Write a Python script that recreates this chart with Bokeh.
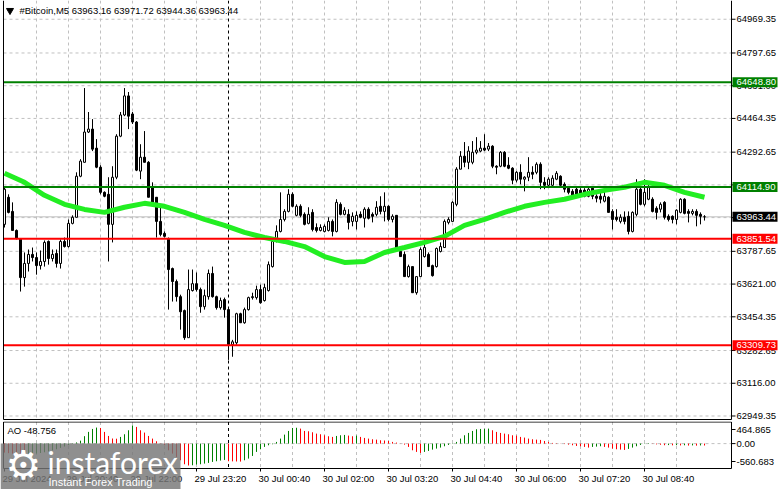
from bokeh.plotting import figure
from bokeh.layouts import column
from bokeh.models import Range1d, ColumnDataSource
from bokeh.embed import file_html
from bokeh.resources import INLINE
from bokeh.core.properties import value

FONT = "Liberation Sans"
FS = "9.5px"

# ---------------- data ----------------
opens = [63925, 64063, 63991, 63894, 63853, 63654, 63726, 63772, 63756, 63715,
         63736, 63838, 63751, 63777, 63726, 63838, 63812, 63930, 63961, 64170,
         64241, 64395, 64410, 64313, 64216, 64088, 64078, 63925, 64165, 64374,
         64482, 64579, 64487, 64446, 64196, 64267, 64241, 64114, 64063, 63940,
         63879, 63853, 63700, 63634, 63557, 63486, 63348, 63588, 63623, 63593,
         63506, 63557, 63675, 63557, 63501, 63542, 63491, 63312, 63322, 63470,
         63424, 63491, 63552, 63552, 63593, 63537, 63588, 63710, 63838, 63889,
         63950, 63991, 64078, 63971, 64017, 63976, 63930, 63986, 63909, 63894,
         63889, 63894, 63940, 63889, 64027, 63976, 63976, 63940, 63940, 63976,
         63956, 64002, 63976, 63976, 64017, 63991, 64017, 63950, 63971, 63787,
         63772, 63659, 63710, 63577, 63659, 63761, 63772, 63715, 63710, 63787,
         63807, 63935, 63940, 64027, 64206, 64272, 64241, 64241, 64292, 64298,
         64313, 64308, 64323, 64221, 64221, 64292, 64226, 64211, 64150, 64190,
         64155, 64165, 64190, 64190, 64231, 64139, 64124, 64124, 64155, 64170,
         64129, 64109, 64093, 64104, 64099, 64099, 64068, 64109, 64068, 64068,
         64043, 64063, 63991, 63961, 63940, 63961, 63966, 63889, 63976, 64104,
         64027, 64053, 64053, 64007, 64002, 64037, 63966, 63966, 63950, 63986,
         64053, 63991, 63981, 63991, 63976, 63963.16]
highs = [64114, 64078, 64037, 63899, 63853, 63782, 63797, 63807, 63782, 63792,
         63843, 63843, 63797, 63797, 63848, 63858, 63950, 63971, 64190, 64257,
         64619, 64497, 64461, 64359, 64226, 64093, 64165, 64221, 64384, 64497,
         64619, 64599, 64497, 64451, 64333, 64400, 64247, 64139, 64063, 64012,
         63889, 63858, 63705, 63644, 63567, 63491, 63695, 63695, 63680, 63603,
         63593, 63695, 63710, 63562, 63552, 63552, 63501, 63337, 63475, 63475,
         63501, 63557, 63577, 63613, 63618, 63623, 63736, 63848, 63920, 64088,
         64002, 64104, 64088, 64027, 64027, 63986, 64012, 64002, 63930, 63925,
         63925, 63961, 63950, 64053, 64037, 64012, 64002, 63986, 63991, 63991,
         64012, 64012, 63986, 64043, 64068, 64088, 64022, 63976, 63971, 63812,
         63787, 63720, 63710, 63659, 63807, 63848, 63782, 63720, 63807, 63833,
         63950, 63961, 64043, 64216, 64298, 64344, 64323, 64349, 64369, 64349,
         64384, 64339, 64328, 64226, 64298, 64298, 64267, 64216, 64196, 64231,
         64170, 64267, 64221, 64241, 64241, 64165, 64165, 64175, 64196, 64175,
         64139, 64114, 64104, 64114, 64109, 64109, 64119, 64119, 64078, 64088,
         64104, 64068, 64002, 64002, 63976, 63991, 63991, 63991, 64155, 64114,
         64155, 64129, 64063, 64017, 64037, 64043, 63976, 63971, 64002, 64058,
         64058, 64002, 64002, 64002, 63986, 63971.72]
lows = [63909, 63981, 63894, 63848, 63583, 63608, 63685, 63736, 63669, 63695,
        63710, 63720, 63736, 63705, 63700, 63807, 63807, 63925, 63961, 64165,
        64241, 64390, 64298, 64211, 64078, 64063, 63736, 63833, 64155, 64369,
        64476, 64410, 64436, 64196, 64155, 64241, 64063, 64027, 63858, 63864,
        63858, 63491, 63532, 63532, 63389, 63337, 63348, 63583, 63583, 63475,
        63491, 63542, 63552, 63491, 63491, 63450, 63235, 63251, 63312, 63424,
        63419, 63486, 63542, 63542, 63521, 63532, 63583, 63705, 63833, 63884,
        63940, 63986, 64012, 63966, 63961, 63920, 63925, 63889, 63884, 63889,
        63884, 63889, 63864, 63884, 63971, 63971, 63899, 63915, 63899, 63956,
        63909, 63950, 63935, 63966, 63976, 63940, 63940, 63935, 63797, 63761,
        63659, 63654, 63577, 63567, 63659, 63756, 63710, 63659, 63705, 63782,
        63807, 63925, 63940, 64017, 64206, 64216, 64206, 64231, 64282, 64292,
        64298, 64298, 64211, 64180, 64216, 64216, 64206, 64129, 64139, 64129,
        64093, 64145, 64155, 64180, 64104, 64104, 64114, 64119, 64150, 64119,
        64088, 64078, 64063, 64063, 64068, 64063, 64063, 64053, 64037, 64032,
        64037, 63986, 63899, 63940, 63930, 63925, 63874, 63884, 63966, 64022,
        64017, 64048, 63986, 63950, 63986, 63950, 63940, 63930, 63925, 63981,
        63976, 63935, 63971, 63915, 63925, 63944.36]
closes = [64104, 63986, 63894, 63853, 63654, 63726, 63772, 63756, 63715, 63736,
          63833, 63751, 63772, 63726, 63838, 63812, 63930, 63961, 64170, 64247,
          64395, 64410, 64308, 64216, 64088, 64068, 63925, 64165, 64374, 64482,
          64579, 64476, 64446, 64201, 64267, 64241, 64063, 64037, 63940, 63874,
          63864, 63695, 63634, 63557, 63480, 63348, 63593, 63623, 63593, 63506,
          63562, 63675, 63557, 63501, 63537, 63491, 63312, 63327, 63470, 63424,
          63491, 63552, 63557, 63593, 63526, 63603, 63720, 63838, 63889, 63950,
          63991, 64078, 64017, 64017, 63971, 63925, 63976, 63899, 63894, 63909,
          63915, 63940, 63889, 64037, 63976, 63997, 63935, 63966, 63971, 63961,
          64002, 63956, 63966, 64012, 63991, 64017, 63950, 63966, 63807, 63761,
          63659, 63710, 63577, 63659, 63797, 63807, 63710, 63664, 63802, 63812,
          63940, 63950, 64037, 64206, 64272, 64241, 64298, 64292, 64303, 64313,
          64303, 64323, 64221, 64216, 64292, 64221, 64211, 64150, 64190, 64155,
          64165, 64190, 64180, 64231, 64139, 64124, 64155, 64160, 64185, 64124,
          64104, 64088, 64068, 64068, 64078, 64068, 64104, 64068, 64058, 64053,
          64068, 63986, 63950, 63950, 63961, 63940, 63889, 63986, 64104, 64027,
          64088, 64114, 63991, 63986, 64027, 63961, 63950, 63950, 63997, 64053,
          63981, 63981, 63991, 63971, 63966, 63963.44]

# moving average read every 5 bars
ma_bars = list(range(0, 176, 5))
ma_vals = [64185, 64139, 64073, 64027, 64001, 63986, 64012, 64032, 64017, 63986,
           63950, 63920, 63884, 63858, 63838, 63812, 63761, 63731, 63736, 63782,
           63807, 63833, 63864, 63920, 63950, 63986, 64017, 64037, 64053, 64078,
           64098, 64114, 64139, 64124, 64088, 64063]

ao = [-230, -245, -258, -270, -285, -290, -282, -270, -255, -240,
      -222, -200, -175, -145, -110, -75, -40, 10, 30, 75,
      190, 300, 375, 410, 400, 299, 196, 130, 125, 171,
      239, 341, 464.865, 427, 341, 282, 196, 128, 60, 5,
      -43, -171, -256, -341, -427, -529, -560.683, -555, -537, -529,
      -512, -495, -469, -452, -435, -418, -452, -455, -458, -461,
      -427, -384, -316, -213, -145, -85, -43, -17, 43, 128,
      230, 324, 400, 405, 384, 324, 316, 290, 256, 239,
      213, 188, 171, 196, 213, 222, 205, 188, 205, 171,
      145, 128, 111, 102, 85, 80, 68, 43, 26, 3,
      -26, -85, -171, -213, -239, -213, -188, -154, -128, -102,
      -68, -34, 9, 43, 128, 213, 273, 324, 367, 375,
      378, 384, 341, 299, 273, 256, 239, 213, 205, 171,
      154, 128, 111, 102, 94, 68, 43, 17, 9, -4,
      -12, -26, -43, -60, -68, -85, -102, -85, -77, -68,
      -85, -102, -128, -145, -154, -162, -136, -102, -68, -34,
      -9, 12, -5, -20, -30, -42, -38, -45, -40, -47,
      -43, -50, -46, -52, -47, -48.756]

time_ticks = [0, 16, 32, 48, 64, 80, 96, 112, 128, 144, 160]
time_labels = ["29 Jul 2024", "29 Jul 20:40", "29 Jul 22:00", "29 Jul 23:20",
               "30 Jul 00:40", "30 Jul 02:00", "30 Jul 03:20", "30 Jul 04:40",
               "30 Jul 06:00", "30 Jul 07:20", "30 Jul 08:40"]
price_ticks = [64969.35, 64797.65, 64631.00, 64464.35, 64292.65, 64126.00,
               63959.35, 63787.65, 63621.00, 63454.35, 63282.65, 63116.00, 62949.35]
levels_green = [64648.80, 64114.90]
levels_red = [63851.54, 63309.73]
last_price = 63963.44
day_sep_bar = 56
symbol_text = "#Bitcoin,M5  63963.16 63971.72 63944.36 63963.44"
ao_title = "AO -48.756"
ao_scale_labels = ["464.865", "0.00", "-560.683"]

bars = list(range(len(closes)))
vgrid = [b for b in range(8, 176, 8) if b != day_sep_bar]

# ---------------- geometry (screen layout, 4 px per bar) ----------------
PX_PER_BAR = 4.0
def bx(px):            # horizontal screen pixel -> bar coordinate
    return -1.0 + px / PX_PER_BAR

X0, X1 = bx(0), bx(781)
LEFT, RIGHT = bx(3), bx(731)

P_TOP, P_PER_PX = 65064.8, 5.0915       # main panel price scale
def py(pix):
    return P_TOP - P_PER_PX * pix

MAIN_H = 421
AO_H = 68
AO_PER_PX = 25.6
AO_ZERO_LOCAL = 443.1 - MAIN_H
def ay(pix):           # absolute screen y -> AO value
    return (AO_ZERO_LOCAL - (pix - MAIN_H)) * AO_PER_PX

GRID = "#c0c0c0"

# ---------------- main price panel ----------------
p = figure(width=781, height=MAIN_H, x_range=Range1d(X0, X1),
           y_range=Range1d(py(MAIN_H), py(0)), output_backend="svg",
           toolbar_location=None, x_axis_location=None, y_axis_location=None,
           min_border=0)
p.outline_line_color = None
p.background_fill_color = "white"
p.border_fill_color = "white"
p.grid.visible = False

top_v, bot_v = py(0), py(419)
# grid
p.segment(x0=[LEFT] * len(price_ticks), y0=price_ticks, x1=[RIGHT] * len(price_ticks),
          y1=price_ticks, line_color=GRID, line_width=1, line_dash="3 3")
p.segment(x0=vgrid, y0=[top_v] * len(vgrid), x1=vgrid, y1=[bot_v] * len(vgrid),
          line_color=GRID, line_width=1, line_dash="3 3")
# last price line and day separator
p.segment(x0=[LEFT], y0=[last_price], x1=[RIGHT], y1=[last_price], line_color=GRID, line_width=1)
p.segment(x0=[day_sep_bar], y0=[top_v], x1=[day_sep_bar], y1=[bot_v],
          line_color="black", line_width=1, line_dash="3 3")

# candles
src = ColumnDataSource(dict(
    x=bars, o=opens, h=highs, l=lows, c=closes,
    top=[max(o, c) for o, c in zip(opens, closes)],
    bottom=[min(o, c) for o, c in zip(opens, closes)],
    fill=["white" if c >= o else "black" for o, c in zip(opens, closes)],
))
p.segment(x0="x", y0="l", x1="x", y1="h", source=src, line_color="black", line_width=1)
p.vbar(x="x", top="top", bottom="bottom", width=0.5, fill_color="fill",
       line_color="black", line_width=1, source=src)

# moving average
p.line(ma_bars, ma_vals, line_color="#22ee22", line_width=5)

# level lines
for lv in levels_green:
    p.segment(x0=[LEFT], y0=[lv], x1=[RIGHT], y1=[lv], line_color="#008000", line_width=2)
for lv in levels_red:
    p.segment(x0=[LEFT], y0=[lv], x1=[RIGHT], y1=[lv], line_color="#ff0000", line_width=2)

# frame lines and right price axis
p.segment(x0=[LEFT, LEFT, RIGHT], y0=[top_v, bot_v, top_v], x1=[LEFT, RIGHT, RIGHT],
          y1=[bot_v, bot_v, bot_v], line_color="black", line_width=1)
p.segment(x0=[RIGHT] * len(price_ticks), y0=price_ticks, x1=[bx(735)] * len(price_ticks),
          y1=price_ticks, line_color="black", line_width=1)
p.text(x=[bx(736)] * len(price_ticks), y=price_ticks, text=["%.2f" % t for t in price_ticks],
       text_font=value(FONT), text_font_size=FS, text_baseline="middle",
       text_align="left", text_color="black")

# price boxes on the axis
box_vals = levels_green + levels_red + [last_price]
box_cols = ["#008000"] * len(levels_green) + ["#ff0000"] * len(levels_red) + ["black"]
half = 5 * P_PER_PX
p.quad(left=[bx(732)] * len(box_vals), right=[bx(777)] * len(box_vals),
       top=[v + half for v in box_vals], bottom=[v - half for v in box_vals],
       fill_color=box_cols, line_color=None)
p.text(x=[bx(736)] * len(box_vals), y=box_vals, text=["%.2f" % v for v in box_vals],
       text_font=value(FONT), text_font_size=FS, text_baseline="middle",
       text_align="left", text_color="white")

# header
p.scatter([bx(9.5)], [py(10)], marker="inverted_triangle", size=7, color="black")
p.text(x=[bx(19)], y=[py(10)], text=[symbol_text], text_font=value(FONT),
       text_font_size=FS, text_baseline="middle", text_color="black")

# ---------------- AO panel ----------------
p2 = figure(width=781, height=AO_H, x_range=p.x_range,
            y_range=Range1d(ay(MAIN_H + AO_H), ay(MAIN_H)), output_backend="svg",
            toolbar_location=None, x_axis_location=None, y_axis_location=None,
            min_border=0)
p2.outline_line_color = None
p2.background_fill_color = "white"
p2.border_fill_color = "white"
p2.grid.visible = False

a_top, a_bot = ay(421.5), ay(468)
p2.segment(x0=[LEFT], y0=[0], x1=[RIGHT], y1=[0], line_color=GRID, line_width=1, line_dash="3 3")
p2.segment(x0=vgrid, y0=[a_top] * len(vgrid), x1=vgrid, y1=[a_bot] * len(vgrid),
           line_color=GRID, line_width=1, line_dash="3 3")
p2.segment(x0=[day_sep_bar], y0=[a_top], x1=[day_sep_bar], y1=[a_bot],
           line_color="black", line_width=1, line_dash="3 3")

ao_colors = ["#ff0000"] + ["#008000" if ao[i] > ao[i - 1] else "#ff0000" for i in range(1, len(ao))]
p2.segment(x0=bars, y0=[0] * len(ao), x1=bars, y1=ao, line_color=ao_colors, line_width=1)

# frame
p2.segment(x0=[LEFT, LEFT, LEFT, RIGHT], y0=[a_top, a_top, a_bot, a_top],
           x1=[RIGHT, LEFT, RIGHT, RIGHT], y1=[a_top, a_bot, a_bot, a_bot],
           line_color="black", line_width=1)
# AO scale labels (drawn at the positions MT4 uses)
ao_label_y = [ay(429), 0, ay(461)]
p2.segment(x0=[RIGHT] * 3, y0=ao_label_y, x1=[bx(735)] * 3, y1=ao_label_y,
           line_color="black", line_width=1)
p2.text(x=[bx(736)] * 3, y=ao_label_y, text=ao_scale_labels, text_font=value(FONT),
        text_font_size=FS, text_baseline="middle", text_align="left", text_color="black")

# time axis
p2.segment(x0=time_ticks, y0=[a_bot] * len(time_ticks), x1=time_ticks,
           y1=[ay(471)] * len(time_ticks), line_color="black", line_width=1)
p2.text(x=[t - 0.5 for t in time_ticks], y=[ay(477.5)] * len(time_ticks), text=time_labels,
        text_font=value(FONT), text_font_size=FS, text_baseline="middle",
        text_align="left", text_color="black")

p2.text(x=[bx(7)], y=[ay(430)], text=[ao_title], text_font=value(FONT),
        text_font_size=FS, text_baseline="middle", text_color="black")

# watermark
p2.quad(left=[bx(0)], right=[bx(180)], top=[ay(443)], bottom=[ay(489)],
        fill_color="#767676", fill_alpha=0.82, line_color=None)
p2.text(x=[bx(23)], y=[ay(464)], text=["\u2699"], text_font=value("DejaVu Sans"),
        text_font_size="40px", text_align="center", text_baseline="middle", text_color="white")
p2.text(x=[bx(47)], y=[ay(461)], text=["instaforex"], text_font=value("Lato"),
        text_font_size="30px", text_align="left", text_baseline="middle", text_color="white")
p2.text(x=[bx(48)], y=[ay(481)], text=["Instant Forex Trading"], text_font=value(FONT),
        text_font_size="11px", text_align="left", text_baseline="middle", text_color="white")

layout = column(p, p2, spacing=0)
layout.styles = {"position": "absolute", "left": "0px", "top": "0px"}

open("out.html", "w").write(file_html(layout, INLINE))
